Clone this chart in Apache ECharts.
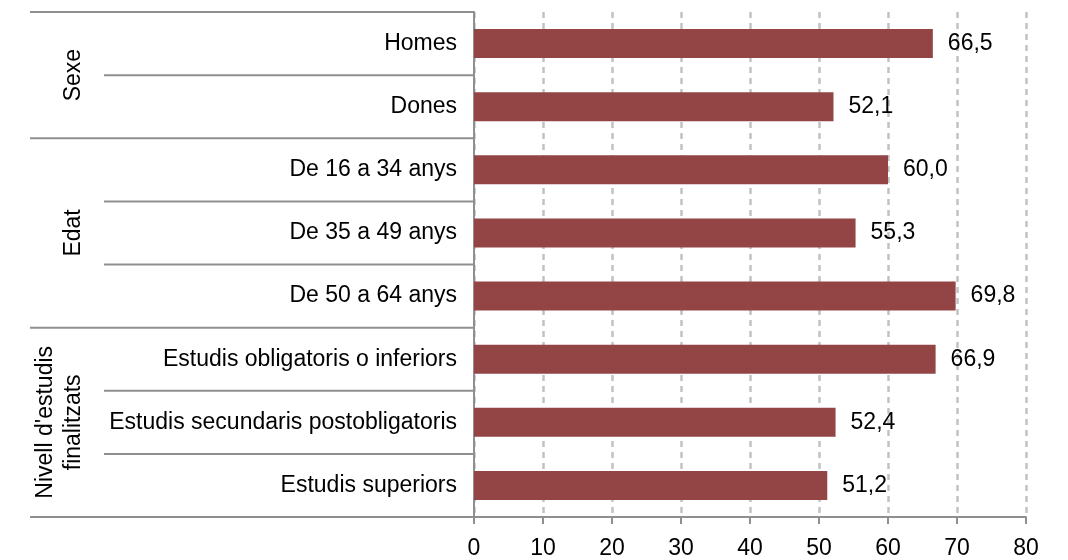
<!DOCTYPE html>
<html><head><meta charset="utf-8">
<script src="https://cdn.jsdelivr.net/npm/echarts@6/dist/echarts.min.js"></script>
<style>html,body{margin:0;padding:0;background:#fff}#c{width:1068px;height:560px}</style>
</head><body><div id="c"></div>
<script>
const categories = ["Homes","Dones","De 16 a 34 anys","De 35 a 49 anys","De 50 a 64 anys","Estudis obligatoris o inferiors","Estudis secundaris postobligatoris","Estudis superiors"];
const values = [66.5, 52.1, 60.0, 55.3, 69.8, 66.9, 52.4, 51.2];
const groups = [
  {name: "Sexe", start: 0, end: 1},
  {name: "Edat", start: 2, end: 4},
  {name: "Nivell d'estudis\nfinalitzats", start: 5, end: 7}
];
const xTicks = [0, 80, 10];

const FONT = "Liberation Sans, Arial, sans-serif";
const FS = 23;
const LINE = "#8f8f8f";
const chart = echarts.init(document.getElementById('c'));
chart.setOption({
  animation: false,
  backgroundColor: '#fff',
  grid: {left: 474, right: 42, top: 12, bottom: 43, containLabel: false},
  xAxis: {
    type: 'value', min: xTicks[0], max: xTicks[1], interval: xTicks[2],
    axisLine: {show: true, lineStyle: {color: LINE, width: 2}},
    axisTick: {show: true, length: 7, lineStyle: {color: LINE, width: 2}},
    axisLabel: {color: '#000', fontSize: FS, fontFamily: FONT, margin: 20},
    splitLine: {show: true, lineStyle: {color: '#c2c2c2', width: 2.5, type: [6, 5]}}
  },
  yAxis: {
    type: 'category', data: categories, inverse: true,
    axisLine: {show: true, lineStyle: {color: LINE, width: 2}},
    axisTick: {show: false},
    axisLabel: {color: '#000', fontSize: FS, fontFamily: FONT, margin: 17}
  },
  series: [{
    type: 'bar', data: values, barWidth: '46%',
    itemStyle: {color: '#934546'},
    label: {show: true, position: 'right', distance: 15, color: '#000', fontSize: FS, fontFamily: FONT,
      formatter: p => p.value.toFixed(1).replace('.', ',')}
  }]
});

const n = categories.length;
const c0 = chart.convertToPixel({yAxisIndex: 0}, 0);
const c1 = chart.convertToPixel({yAxisIndex: 0}, 1);
const band = c1 - c0;
const axisX = chart.convertToPixel({xAxisIndex: 0}, 0);
const boundary = i => c0 - band / 2 + i * band;
const groupStarts = new Set(groups.map(g => g.start));
groupStarts.add(n);
const gfx = [];
for (let i = 0; i <= n; i++) {
  const isGroup = groupStarts.has(i);
  const y = boundary(i);
  gfx.push({type: 'line', shape: {x1: isGroup ? 30 : 104, y1: y, x2: axisX, y2: y},
    style: {stroke: LINE, lineWidth: 2}, silent: true});
}
groups.forEach(g => {
  const yMid = (boundary(g.start) + boundary(g.end + 1)) / 2;
  const multi = g.name.indexOf('\n') >= 0;
  gfx.push({type: 'text', x: multi ? 60 : 74, y: yMid, rotation: Math.PI / 2,
    style: {text: g.name, fill: '#000', fontSize: FS, fontFamily: FONT, align: 'center', verticalAlign: 'middle', lineHeight: 28},
    silent: true});
});
chart.setOption({graphic: gfx});
</script></body></html>
